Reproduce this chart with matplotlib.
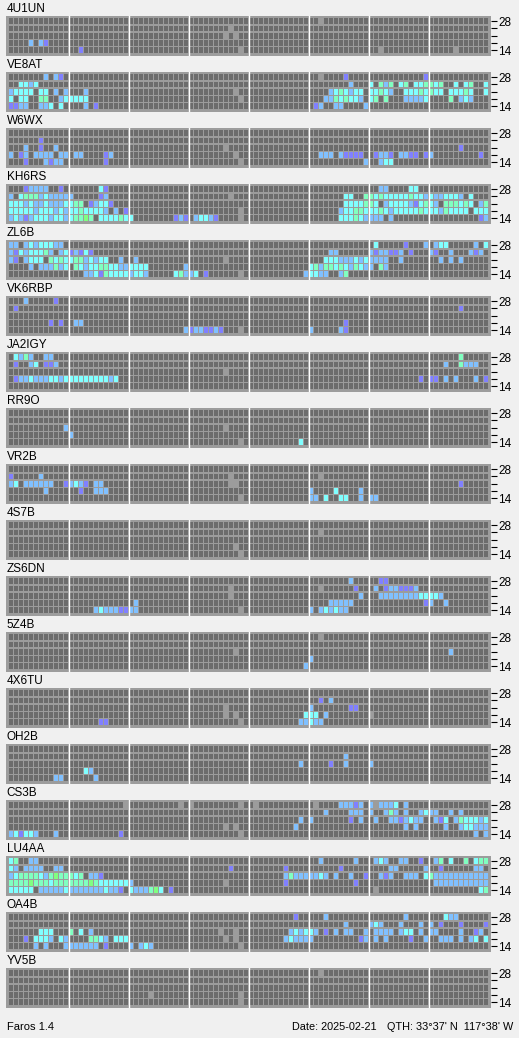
import matplotlib
matplotlib.use('Agg')
import matplotlib.pyplot as plt

plt.rcParams['font.family'] = ['Liberation Sans', 'DejaVu Sans']

# band rows, top to bottom (MHz); 96 quarter-hour slots per day
BANDS = ['28', '24', '21', '18', '14']
N_SLOTS = 96

# heard cells per band: "<slot><level>", level: x=no data, p<b<c<m<g signal strength
b_4U1UN = ["62x", "44x", "43x 45x", "4b 6b 7p", "14p 46x 74x 89x"]
b_VE8AT = [
    "7b 9b 10p 62x 67p 83p",
    "2c 3c 4b 5c 68b 72c 74m 75b 76m 78c 79m 81c 82c 83m 84m 85c 86m 89c 91c 92m 95c",
    "0b 1c 2c 3c 4c 6c 7c 9b 11b 15b 45x 64b 65c 66m 67c 68b 69c 70c 72c 73c 74m 75c 76b "
    "79c 80c 81c 82m 83c 84m 85c 86c 88c 89c 90c 91m 92c 95c",
    "0c 2c 3c 6m 7m 10b 11c 12c 13c 14c 15c 46x 63b 64b 65m 66c 67m 68c 69c 70b 72c 73m "
    "75m 79b 80b 81b 82b 83c 88m 90b 91c 92b",
    "0p 1p 2b 3b 6b 7b 8c 10c 15b 17p 61p 62b 65b 66b 71b",
]
b_W6WX = [
    "",
    "6p",
    "3b 6p 9b 43x 90p",
    "0b 2p 3b 5b 6b 7b 8b 10b 11b 13b 14b 19p 20b 45x 62b 63b 64b 66b 67p 68p 69p 70p 73p "
    "74b 75b 76p 78b 79b 80p 81p 83p 84b 94p",
    "3p 7b 8p 9b 10b 19p 46x 71b 74b 75c 76c",
]
b_KH6RS = [
    "3p 4b 5b 6b 7b 10p 18c 19p 74b 75b 80c 81c",
    "0b 2c 3m 4m 5m 6b 7c 8b 9b 10b 11b 12b 18p 19b 44x 67c 68c 71m 72m 73c 74m 75c 76c 77c "
    "78c 79c 80m 81c 82c 83b 84c 85b 86b 87c 88c 89c 90b 92c",
    "0c 1c 2c 3b 4c 5b 6b 7c 8b 9b 10b 11c 12c 13m 14m 16p 17b 18c 19c 20p 67c 68c 69c 70c "
    "71m 72m 73c 75b 76c 77c 78c 79c 80b 81p 82c 83m 84c 85b 87m 88m 89m 90c 91m 92c 94b 95m",
    "0c 1c 2c 3c 4c 5b 6c 7c 8c 9b 10c 11b 12c 13c 14m 15c 16c 17c 18c 19b 21b 23p 46x 66b "
    "67c 68c 69m 70m 71c 72c 73c 74m 75c 76b 77c 78c 79c 80c 81c 82m 83c 84c 85c 86b 87m 88c "
    "89c 90c 91c 93c 94c 95c",
    "0b 1c 2b 3p 4b 5c 6c 7c 8b 9c 10c 11b 12c 13m 14m 15g 16m 18c 19c 20c 21c 22m 23c 24c "
    "33p 34b 35p 37b 38c 39c 40b 41p 46x 66c 67c 68c 69m 70c 71b 72b 73b 74b 76b 94p 95b",
]
b_ZL6B = [
    "0b 1b 3b 4c 5b 6c 7c 8c 9b 10b 73c 79p 83b 85b 86c 87c 93b 95c",
    "0b 1p 2c 3b 4c 5c 6c 7m 8b 10b 11c 12p 13b 14p 15c 16p 64b 65b 72b 73p 74b 75b 76p 77p "
    "78b 80p 84b 85p 88b 92b 93p 94b",
    "0b 1p 3b 4c 5c 6c 8m 9c 10m 11c 12c 13m 14m 15b 16c 17b 18c 19c 22b 25b 43x 63c 64c 65c "
    "66b 67b 68b 69c 70b 71c 72b 73b 74b 75b 78b 86b 88b 90b",
    "4b 6b 7b 8b 9m 10b 11c 13m 14c 15b 16c 17c 18m 19m 20c 21c 22b 23b 24c 25c 26c 27c 35b "
    "60c 61m 62b 63m 64m 65c 66m 67c 68b 69m 70c 71b 72b 74m 75b",
    "15b 16b 17c 18p 19m 20c 21c 22c 23c 24b 25c 26c 27b 33c 34m 35b 36b 37c 39p 46x 59b 60c "
    "61c 62b 63b 66b 67m",
]
b_VK6RBP = [
    "3b 9p",
    "1p 90p",
    "",
    "8p 10p 13b 14b 67p",
    "35b 36p 37b 38b 39p 40p 41b 42p 46x 60b 66b 67p",
]
b_JA2IGY = [
    "1c 2b 3m 4b 7b 8b 90m",
    "1p 4b 5c 7p 8p 9b 87b 90m 91b 92b 93b",
    "43x",
    "1p 2b 3b 4c 5b 6b 7b 8c 9c 10b 11c 12c 13c 14c 15c 16c 17c 18c 19c 20b 21c 82p 84p 85p "
    "87b 89b 93b 95p",
    "",
]
b_RR9O = ["", "", "11b 43x", "12b", "46x 58c"]
b_VR2B = [
    "",
    "0p 6b 44x 62x",
    "0b 1c 3b 4b 5b 6b 7b 8b 11p 12b 13c 14b 15p 17b 18b 44x 45x 90p",
    "7b 14p 17b 18b 19b 60b 65c 70b",
    "46x 60b 61b 63c 66c 67c 70b 72b 73b",
]
b_4S7B = ["", "62x", "", "45x", "46x"]
b_ZS6DN = [
    "68b 74p 75p",
    "44x 62x 69p 73b 75p 76b 77b 78p 79p 80p 81b",
    "44x 70b 74b 75b 76b 77b 78b 79b 80b 81b 82c 83c 84c 85c 86b",
    "25b 64b 65b 66b 67b 68b 83p 84b 87b",
    "17b 18c 19b 20b 21b 22p 23p 24b 25b 46x 60b 62b 63c 64b 65c 66b 67b",
]
b_5Z4B = ["62x", "", "45x 88b", "60b", "59b"]
b_4X6TU = [
    "",
    "62p 64b",
    "43x 60b 68p 69p",
    "43x 45x 59c 60c 61c 63b 72x",
    "18p 19p 46x 58b 59b 60c 61b 62b",
]
b_OH2B = ["", "67b", "58b 64p 67b 72b", "15c 16b", "9b 10b 17b"]
b_CS3B = [
    "23x 34x 36x 46x 49x 61x 66b 67b 68b 69p 70b 72b 73x 74b 75b 76b 77c 79b",
    "63b 68b 69b 70b 72b 75b 76m 77b 79b 82b 83c 84b 85b 88b 90b",
    "58b 60b 68p 70b 73b 76b 77b 78p 79b 80c 81b 82b 85b 86p 87c 89b 90m 91c 92c 93c 94b 95c",
    "43x 45x 57b 79b 81b 87b 90b 91c 92c 93b 94b 95b",
    "0b 1c 2p 3c 4c 5b 9b 22p 46x 93b 95b",
]
b_LU4AA = [
    "0c 1m 4b 5b 62b 69b 73b 74c 75b 78b 79b 82p 85b 86m 88c 91m 93c 94m 95m",
    "0c 1b 3b 4b 5b 6b 9b 10b 44p 55p 66p 76b 77b 83b 86p 93b 94b",
    "0b 1c 2m 3m 4m 5m 6c 7b 8m 9g 10m 11m 12m 13c 14m 16b 17b 18p 55b 56m 57b 58b 59b 60b "
    "61b 62c 63b 65b 68b 71p 74b 75p 76b 79b 80b 81b 83c 84m 85b 86b 87b 88b 89b 90b 91b 92b "
    "93b 94b 95b",
    "0m 1m 2m 3m 4g 5m 6m 7m 8c 9m 10m 11m 12m 13m 14m 15m 16g 17m 18c 19c 20c 21c 22c 23c "
    "24b 43x 55p 69p 85b 86b 87b 88b 89b 90b 91b 92b 93b 94b 95b",
    "0c 1c 2c 3c 4c 6b 7b 8b 9b 10b 11c 12b 13b 14b 15b 16b 17b 18b 19c 20b 21b 22p 24c 25b "
    "26b 27b 28m 29g 30c 32p 73x 94c 95m",
]
b_OA4B = [
    "57p 63b 79b 87c 88b 89b",
    "67b 72b 73c 74b 78b 82b 84b 86p 90p 95p",
    "6c 7c 8c 12m 14c 16b 42x 45x 56b 57c 58b 59c 60c 61b 63p 65b 67b 68b 71b 73b 74b 75b "
    "76b 78b 79c 80c 82b 84b 85b 90b 93p 94b",
    "3p 5c 6c 7c 8b 10c 11b 16m 17m 18c 19b 21c 22c 23c 43x 45x 55b 56c 57b 58b 59b 60b 70p "
    "71b 73b 75b 80p 83b 86b 87b 88b 90b 92b 93c 95c",
    "5b 7b 11b 12b 13b 14b 15b 16b 17b 19p 24b 26b 27c 28b 46x",
]
b_YV5B = ["62x", "", "", "28x 46x", "46x"]

CALLS = ['4U1UN', 'VE8AT', 'W6WX', 'KH6RS', 'ZL6B', 'VK6RBP', 'JA2IGY', 'RR9O', 'VR2B',
         '4S7B', 'ZS6DN', '5Z4B', '4X6TU', 'OH2B', 'CS3B', 'LU4AA', 'OA4B', 'YV5B']
GRIDS = [b_4U1UN, b_VE8AT, b_W6WX, b_KH6RS, b_ZL6B, b_VK6RBP, b_JA2IGY, b_RR9O, b_VR2B,
         b_4S7B, b_ZS6DN, b_5Z4B, b_4X6TU, b_OH2B, b_CS3B, b_LU4AA, b_OA4B, b_YV5B]

FRAME = '#9c9c9c'
COLORS = {'.': '#6c6c6c', 'x': FRAME, 'p': '#8080ff', 'b': '#80c0ff',
          'c': '#80ffff', 'm': '#80ffc0', 'g': '#80ff80'}

W, H = 519, 1038
fig = plt.figure(figsize=(W / 100, H / 100), dpi=100, facecolor='#f0f0f0')

for k, (call, grid) in enumerate(zip(CALLS, GRIDS)):
    top = 16 + 56.0 * k
    ax = fig.add_axes([6 / W, 1 - (top + 40) / H, 485 / W, 40 / H])
    ax.set_facecolor(FRAME)
    for r, row in enumerate(grid):
        levels = ['.'] * N_SLOTS
        for tok in row.split():
            levels[int(tok[:-1])] = tok[-1]
        ax.bar(range(N_SLOTS), 0.8, bottom=r, width=0.8, align='edge',
               color=[COLORS[v] for v in levels], linewidth=0)
    for h in range(12, N_SLOTS, 12):
        ax.axvline(h - 0.1, color='white', lw=1.0)
    ax.set_xlim(-0.6, 96.4)
    ax.set_ylim(5.22, -0.32)
    ax.set_xticks([])
    ax.yaxis.tick_right()
    ax.set_yticks([r + 0.4 for r in range(5)])
    ax.set_yticklabels(['28', '', '', '', '14'])
    ax.tick_params(axis='y', length=4, width=0.8, pad=1, labelsize=8.5)
    for s in ax.spines.values():
        s.set_visible(False)
    ax.annotate(call, xy=(0, 1), xycoords='axes fraction', xytext=(0.5, 3.5),
                textcoords='offset pixels', va='baseline', ha='left', fontsize=8.5)

fig.text(7 / W, 8 / H, 'Faros 1.4', fontsize=8, va='baseline')
fig.text(292 / W, 8 / H, 'Date: 2025-02-21', fontsize=7.8, va='baseline')
fig.text(513 / W, 8 / H, "QTH: 33°37' N  117°38' W", fontsize=7.8, va='baseline', ha='right')

fig.savefig('out.png', dpi=100, facecolor=fig.get_facecolor())
